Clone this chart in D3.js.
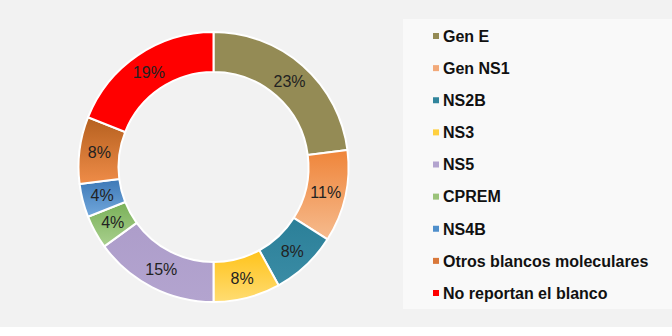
<!DOCTYPE html>
<html lang="es">
  <head>
    <meta charset="UTF-8" />
    <title>Blancos moleculares</title>
    <style>
      body { margin: 0; background: #fff; }
      svg { display: block; }
    </style>
  </head>
  <body>
    <svg id="chart" width="672" height="336"></svg>
  </body>
  <script src="https://cdn.jsdelivr.net/npm/d3@7"></script>
  <script>
    // data
    const categories = ["Gen E", "Gen NS1", "NS2B", "NS3", "NS5", "CPREM", "NS4B", "Otros blancos moleculares", "No reportan el blanco"];
    const values = [23, 11, 8, 8, 15, 4, 4, 8, 19];
    // [top colour, bottom colour] of every slice
    const colors = [
      ["#948b55", "#948b55"],
      ["#ef853a", "#f6bb8e"],
      ["#2b7f98", "#3a8ca5"],
      ["#ffc31a", "#ffdc72"],
      ["#ad9dca", "#b3a4cf"],
      ["#79b058", "#a9d08e"],
      ["#3d78b6", "#72a8dc"],
      ["#b5601f", "#ef8c48"],
      ["#ff0000", "#ff0000"]
    ];
    const markerColors = ["#948b55", "#f2a979", "#31859c", "#ffd03f", "#b3a4cf", "#9bc37a", "#4f8fcb", "#d9783a", "#ff0000"];

    const svg = d3.select("#chart");
    const width = 672, height = 336;

    // backgrounds
    svg.append("rect").attr("width", width).attr("height", 327).attr("fill", "#f2f2f2");
    svg.append("rect").attr("x", 403).attr("y", 19).attr("width", width - 403).attr("height", 290).attr("fill", "#f9f9f9");

    const defs = svg.append("defs");
    colors.forEach((c, i) => {
      let g = defs.append("linearGradient").attr("id", "grad" + i)
        .attr("x1", 0).attr("y1", 0).attr("x2", 0).attr("y2", 1);
      g.append("stop").attr("offset", "0%").attr("stop-color", c[0]);
      g.append("stop").attr("offset", "100%").attr("stop-color", c[1]);
    });

    const cx = 213.5, cy = 167;
    const outerR = 135, innerR = 95;

    const pie = d3.pie().sort(null).value(d => d);
    const arc = d3.arc().innerRadius(innerR).outerRadius(outerR);
    const arcs = pie(values);

    let donut = svg.append("g").attr("transform", `translate(${cx},${cy})`);

    donut.selectAll("path").data(arcs).enter().append("path")
      .attr("d", arc)
      .attr("fill", (d, i) => `url(#grad${i})`)
      .attr("stroke", "#ffffff")
      .attr("stroke-width", 2)
      .attr("stroke-linejoin", "round");

    donut.selectAll("text").data(arcs).enter().append("text")
      .attr("transform", d => `translate(${arc.centroid(d)})`)
      .attr("text-anchor", "middle")
      .attr("dy", "0.36em")
      .attr("font-family", "Liberation Sans, Arial, sans-serif")
      .attr("font-size", 16)
      .attr("fill", "#222")
      .text(d => d.data + "%");

    // legend
    const legendY = d3.scalePoint().domain(categories).range([36, 293]);
    let item = svg.append("g").selectAll("g").data(categories).enter().append("g")
      .attr("transform", d => `translate(433,${legendY(d)})`);
    item.append("rect")
      .attr("x", 0).attr("y", -3).attr("width", 6).attr("height", 6)
      .attr("fill", (d, i) => markerColors[i]);
    item.append("text")
      .attr("x", 10)
      .attr("dy", "0.36em")
      .attr("font-family", "Liberation Sans, Arial, sans-serif")
      .attr("font-weight", "bold")
      .attr("font-size", 16)
      .attr("fill", "#111")
      .text(d => d);
  </script>
</html>
